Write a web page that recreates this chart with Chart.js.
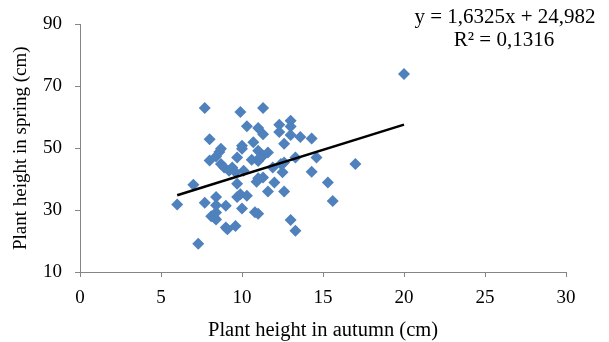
<!DOCTYPE html>
<html>
<head>
<meta charset="utf-8">
<script src="https://cdn.jsdelivr.net/npm/chart.js@4/dist/chart.umd.min.js"></script>
<style>
  html, body { margin: 0; padding: 0; background: #fff; }
  canvas { display: block; }
</style>
</head>
<body>
<canvas id="plantChart" width="609" height="342"></canvas>
<script>
const autumnHeight = [
  6.0, 7.0, 7.3, 7.7, 7.7, 8.0, 8.0, 8.1, 8.3, 8.4, 8.4, 8.4, 8.4, 8.4, 8.6, 8.7, 8.7, 8.9, 9.0, 9.0,
  9.1, 9.2, 9.4, 9.6, 9.7, 9.7, 9.7, 9.6, 9.9, 10.0, 10.0, 9.9, 10.0, 10.1, 10.3, 10.3, 10.7, 10.6, 10.8, 11.0,
  11.0, 11.0, 10.9, 11.0, 11.0, 11.3, 11.3, 11.3, 11.3, 11.1, 11.6, 11.6, 11.9, 12.0, 12.3, 12.3, 12.4, 12.5, 12.6, 12.6,
  12.6, 13.0, 13.0, 13.0, 13.0, 13.3, 13.3, 13.6, 14.3, 14.3, 14.6, 15.3, 15.6, 17.0, 20.0
];
const springHeight = [
  31.8, 38.2, 19.1, 63.0, 32.4, 52.9, 46.0, 28.0, 27.5, 34.2, 31.6, 29.2, 27.0, 47.3, 48.8, 49.8, 44.9, 43.8, 31.4, 24.4,
  23.8, 42.7, 43.8, 42.2, 47.0, 38.5, 34.2, 24.9, 61.7, 50.8, 49.8, 35.1, 30.5, 42.7, 57.1, 34.6, 51.9, 46.3, 29.3, 56.5,
  49.2, 45.9, 39.2, 28.8, 40.3, 63.0, 54.5, 47.6, 40.5, 47.0, 48.6, 36.0, 43.8, 38.9, 57.6, 55.2, 44.9, 42.2, 51.4, 45.4,
  36.0, 58.9, 57.0, 54.3, 26.8, 23.3, 47.0, 53.6, 53.1, 42.4, 47.0, 38.9, 32.9, 44.9, 74.0
];

// linear trend from the figure
const slope = 1.6325;
const intercept = 24.982;
const rSquared = '0,1316';
const trendRange = [6, 20];

const xTicks = [0, 5, 10, 15, 20, 25, 30];
const yTicks = [10, 30, 50, 70, 90];

const serif = '"Liberation Serif", "Times New Roman", serif';
const axisGray = '#868686';

const points = autumnHeight.map((x, i) => ({ x: x, y: springHeight[i] }));
const trendPoints = trendRange.map(x => ({ x: x, y: slope * x + intercept }));

// equation + R² label in the top right corner
const equationLabel = {
    id: 'equationLabel',
    afterDraw(chart) {
        const ctx = chart.ctx;
        ctx.save();
        ctx.fillStyle = '#000';
        ctx.font = '21px ' + serif;
        ctx.textAlign = 'center';
        ctx.textBaseline = 'middle';
        ctx.fillText('y = ' + String(slope).replace('.', ',') + 'x + ' + String(intercept).replace('.', ','), 505, 17);
        ctx.fillText('R² = ' + rSquared, 504, 40);
        ctx.restore();
    }
};

const ctx = document.getElementById('plantChart').getContext('2d');
new Chart(ctx, {
    type: 'scatter',
    data: {
        datasets: [{
            type: 'line',
            data: trendPoints,
            borderColor: '#000',
            borderWidth: 2.5,
            pointRadius: 0,
            order: 0
        }, {
            data: points,
            pointStyle: 'rectRot',
            pointRadius: 6,
            borderWidth: 0,
            backgroundColor: '#4F81BD',
            borderColor: '#4F81BD',
            order: 1
        }]
    },
    options: {
        responsive: false,
        animation: false,
        devicePixelRatio: 1,
        layout: { padding: { top: 24, right: 43, left: 0, bottom: 0 } },
        plugins: {
            legend: { display: false },
            tooltip: { enabled: false }
        },
        scales: {
            x: {
                type: 'linear',
                min: xTicks[0],
                max: xTicks[xTicks.length - 1],
                afterBuildTicks: s => { s.ticks = xTicks.map(v => ({ value: v })); },
                afterFit: s => { s.height = 70; },
                ticks: { color: '#000', font: { family: serif, size: 19 }, padding: 10 },
                grid: { drawOnChartArea: false, drawTicks: true, tickLength: 5, color: axisGray },
                border: { color: axisGray, width: 1 },
                title: {
                    display: true,
                    text: 'Plant height in autumn (cm)',
                    color: '#000',
                    font: { family: serif, size: 20.5 },
                    padding: { top: 0, bottom: -1 }
                }
            },
            y: {
                type: 'linear',
                min: yTicks[0],
                max: yTicks[yTicks.length - 1],
                afterBuildTicks: s => { s.ticks = yTicks.map(v => ({ value: v })); },
                afterFit: s => { s.width = 80; },
                ticks: { color: '#000', font: { family: serif, size: 19 }, padding: 13 },
                grid: { drawOnChartArea: false, drawTicks: true, tickLength: 5, color: axisGray },
                border: { color: axisGray, width: 1 },
                title: {
                    display: true,
                    text: 'Plant height in spring (cm)',
                    color: '#000',
                    font: { family: serif, size: 19 },
                    padding: { top: 10, bottom: 0 }
                }
            }
        }
    },
    plugins: [equationLabel]
});
</script>
</body>
</html>
